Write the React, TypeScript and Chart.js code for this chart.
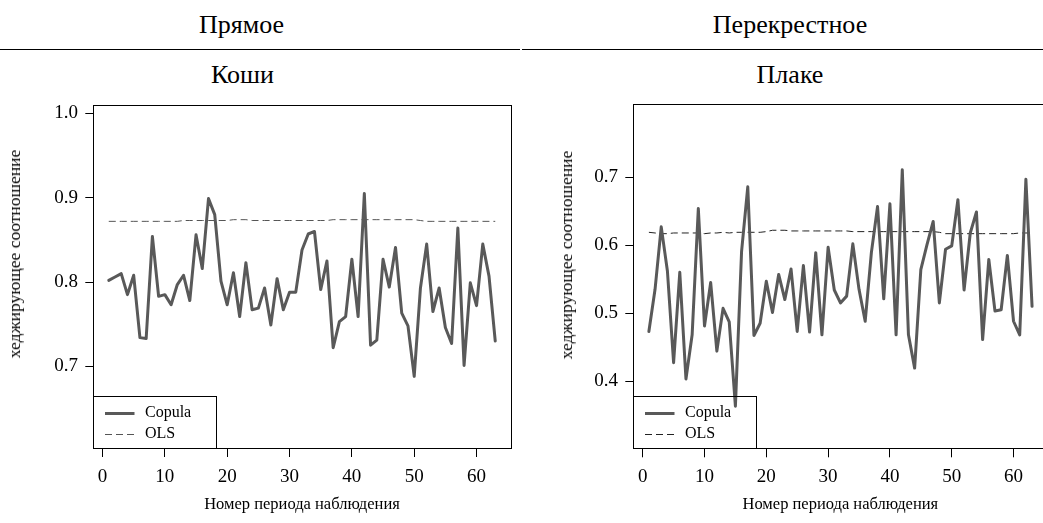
import React, { useEffect, useRef } from 'react';
import { Chart, registerables } from 'chart.js';

Chart.register(...registerables);

const FONT = "'Liberation Serif', 'Times New Roman', 'DejaVu Serif', serif";

const periods = [1, 2, 3, 4, 5, 6, 7, 8, 9, 10, 11, 12, 13, 14, 15, 16, 17, 18, 19, 20, 21, 22, 23, 24, 25, 26, 27, 28, 29, 30, 31, 32, 33, 34, 35, 36, 37, 38, 39, 40, 41, 42, 43, 44, 45, 46, 47, 48, 49, 50, 51, 52, 53, 54, 55, 56, 57, 58, 59, 60, 61, 62, 63];

const leftCopula = [0.802, 0.806, 0.810, 0.785, 0.808, 0.734, 0.733, 0.854, 0.783, 0.785, 0.773, 0.797, 0.808, 0.778, 0.856, 0.816, 0.899, 0.880, 0.801, 0.773, 0.811, 0.759, 0.823, 0.767, 0.769, 0.793, 0.749, 0.804, 0.767, 0.788, 0.788, 0.838, 0.857, 0.860, 0.791, 0.825, 0.722, 0.753, 0.759, 0.827, 0.759, 0.905, 0.725, 0.731, 0.827, 0.794, 0.841, 0.763, 0.748, 0.688, 0.793, 0.845, 0.765, 0.793, 0.746, 0.727, 0.864, 0.701, 0.799, 0.772, 0.845, 0.807, 0.730];

const leftOLS = [0.872, 0.872, 0.872, 0.872, 0.872, 0.872, 0.872, 0.872, 0.872, 0.872, 0.872, 0.872, 0.873, 0.873, 0.873, 0.873, 0.873, 0.873, 0.873, 0.873, 0.874, 0.874, 0.874, 0.873, 0.873, 0.873, 0.873, 0.873, 0.873, 0.873, 0.873, 0.873, 0.873, 0.873, 0.873, 0.873, 0.874, 0.874, 0.874, 0.874, 0.874, 0.874, 0.874, 0.874, 0.874, 0.874, 0.874, 0.874, 0.874, 0.874, 0.873, 0.872, 0.872, 0.872, 0.872, 0.872, 0.872, 0.872, 0.872, 0.872, 0.872, 0.872, 0.872];

const rightCopula = [0.473, 0.535, 0.627, 0.562, 0.427, 0.560, 0.403, 0.468, 0.654, 0.481, 0.545, 0.444, 0.507, 0.487, 0.363, 0.591, 0.686, 0.467, 0.485, 0.547, 0.501, 0.557, 0.520, 0.565, 0.473, 0.570, 0.472, 0.589, 0.468, 0.597, 0.534, 0.515, 0.525, 0.602, 0.535, 0.488, 0.589, 0.657, 0.521, 0.661, 0.468, 0.711, 0.468, 0.419, 0.564, 0.601, 0.635, 0.515, 0.594, 0.599, 0.667, 0.534, 0.618, 0.649, 0.461, 0.579, 0.503, 0.505, 0.585, 0.488, 0.468, 0.697, 0.510];

const rightOLS = [0.619, 0.618, 0.617, 0.617, 0.618, 0.618, 0.618, 0.618, 0.618, 0.617, 0.618, 0.618, 0.619, 0.618, 0.619, 0.619, 0.619, 0.619, 0.619, 0.620, 0.622, 0.622, 0.622, 0.621, 0.621, 0.621, 0.621, 0.621, 0.621, 0.621, 0.621, 0.621, 0.621, 0.620, 0.620, 0.620, 0.620, 0.620, 0.620, 0.620, 0.620, 0.620, 0.620, 0.620, 0.620, 0.620, 0.620, 0.619, 0.617, 0.617, 0.617, 0.617, 0.617, 0.617, 0.617, 0.617, 0.617, 0.617, 0.617, 0.617, 0.618, 0.618, 0.618];

const xTicks = [0, 10, 20, 30, 40, 50, 60];
const leftYTicks = [0.7, 0.8, 0.9, 1.0];
const rightYTicks = [0.4, 0.5, 0.6, 0.7];
const seriesLabels = ['Copula', 'OLS'];
const xTitle = 'Номер периода наблюдения';
const yTitle = 'хеджирующее соотношение';

const boxPlugin = {
  id: 'rbox',
  afterDraw(chart: any) {
    const { ctx, chartArea } = chart;
    ctx.save();
    ctx.strokeStyle = '#000';
    ctx.lineWidth = 1;
    const l = Math.round(chartArea.left) + 0.5;
    const t = Math.round(chartArea.top) + 0.5;
    const r = Math.round(chartArea.right) + 0.5;
    const b = Math.round(chartArea.bottom) + 0.5;
    ctx.strokeRect(l, t, r - l, b - t);
    // legend
    const lw = 123, lh = 52;
    const lx = l, ly = b - lh;
    ctx.strokeRect(lx, ly, lw, lh);
    ctx.font = `16px ${FONT}`;
    ctx.textBaseline = 'middle';
    ctx.textAlign = 'left';
    chart.data.datasets.forEach((ds: any, i: number) => {
      const yy = ly + 16.5 + i * 20.7;
      ctx.beginPath();
      ctx.strokeStyle = ds.borderColor;
      ctx.lineWidth = ds.borderWidth;
      ctx.setLineDash(ds.borderDash || []);
      ctx.moveTo(lx + 11.5, Math.round(yy) + 0.5);
      ctx.lineTo(lx + 41, Math.round(yy) + 0.5);
      ctx.stroke();
      ctx.setLineDash([]);
      ctx.fillStyle = '#000';
      ctx.fillText(ds.label, lx + 51.5, yy);
    });
    ctx.restore();
  },
};

type PanelProps = {
  left: number;
  width: number;
  yWidth: number;
  padTop: number;
  padRight: number;
  xHeight: number;
  xMin: number;
  xMax: number;
  yMin: number;
  yMax: number;
  yTicks: number[];
  copula: number[];
  ols: number[];
  olsColor: string;
};

function Panel(p: PanelProps) {
  const ref = useRef<HTMLCanvasElement>(null);
  useEffect(() => {
    const tickFont = { family: FONT, size: 19 };
    const titleFont = { family: FONT, size: 16.5 };
    const chart = new Chart(ref.current as HTMLCanvasElement, {
      type: 'line',
      data: {
        datasets: [
          {
            label: seriesLabels[0],
            data: periods.map((x, i) => ({ x, y: p.copula[i] })),
            borderColor: '#595959',
            borderWidth: 3,
            pointRadius: 0,
            tension: 0,
            borderJoinStyle: 'round',
            borderCapStyle: 'round',
          },
          {
            label: seriesLabels[1],
            data: periods.map((x, i) => ({ x, y: p.ols[i] })),
            borderColor: p.olsColor,
            borderWidth: 1,
            borderDash: [7, 4],
            pointRadius: 0,
            tension: 0,
          },
        ],
      },
      options: {
        animation: false,
        responsive: false,
        devicePixelRatio: 1,
        events: [],
        layout: { padding: { left: 0, top: p.padTop, right: p.padRight, bottom: 0 } },
        plugins: { legend: { display: false }, tooltip: { enabled: false }, title: { display: false } },
        scales: {
          x: {
            type: 'linear',
            min: p.xMin,
            max: p.xMax,
            afterBuildTicks: (s: any) => {
              s.ticks = xTicks.map((v) => ({ value: v }));
            },
            afterFit: (s: any) => {
              s.height = p.xHeight;
            },
            ticks: { font: tickFont, color: '#000', padding: 8.5, maxRotation: 0, autoSkip: false },
            grid: { display: true, drawOnChartArea: false, drawTicks: true, tickLength: 9, color: '#000', lineWidth: 1 },
            border: { display: false },
            title: { display: true, text: xTitle, font: titleFont, color: '#000', padding: { top: 0, bottom: 8 } },
          },
          y: {
            type: 'linear',
            min: p.yMin,
            max: p.yMax,
            afterBuildTicks: (s: any) => {
              s.ticks = p.yTicks.map((v) => ({ value: v }));
            },
            afterFit: (s: any) => {
              s.width = p.yWidth;
            },
            ticks: {
              font: tickFont,
              color: '#000',
              padding: 7.3,
              autoSkip: false,
              callback: (v: any) => Number(v).toFixed(1),
            },
            grid: { display: true, drawOnChartArea: false, drawTicks: true, tickLength: 8, color: '#000', lineWidth: 1 },
            border: { display: false },
            title: { display: false },
          },
        },
      },
      plugins: [boxPlugin],
    } as any);
    return () => chart.destroy();
  }, []);
  return (
    <canvas
      ref={ref}
      width={p.width}
      height={523}
      style={{ position: 'absolute', left: p.left, top: 0, width: p.width, height: 523 }}
    />
  );
}

const headStyle: React.CSSProperties = {
  position: 'absolute',
  fontFamily: FONT,
  fontSize: 26,
  lineHeight: '26px',
  whiteSpace: 'nowrap',
  transform: 'translateX(-50%)',
  color: '#000',
};

const yTitleStyle: React.CSSProperties = {
  position: 'absolute',
  fontFamily: FONT,
  fontSize: 17.5,
  lineHeight: '18px',
  whiteSpace: 'nowrap',
  transform: 'translate(-50%, -50%) rotate(-90deg)',
  color: '#000',
};

export default function App() {
  return (
    <div
      style={{
        position: 'fixed',
        left: 0,
        top: 0,
        width: 1043,
        height: 523,
        overflow: 'hidden',
        background: '#fff',
      }}
    >
      <div style={{ ...headStyle, left: 241.5, top: 11.5 }}>Прямое</div>
      <div style={{ ...headStyle, left: 790, top: 11.5 }}>Перекрестное</div>
      <div style={{ position: 'absolute', left: 0, top: 48.5, width: 520, height: 1.5, background: '#000' }} />
      <div style={{ position: 'absolute', left: 522, top: 48.5, width: 521, height: 1.5, background: '#000' }} />
      <div style={{ ...headStyle, left: 242.5, top: 62.2 }}>Коши</div>
      <div style={{ ...headStyle, left: 790, top: 62.2 }}>Плаке</div>
      <Panel
        left={0}
        width={521}
        yWidth={93.3}
        padTop={105}
        padRight={10.3}
        xHeight={75}
        xMin={-1.48}
        xMax={65.48}
        yMin={0.603}
        yMax={1.0101}
        yTicks={leftYTicks}
        copula={leftCopula}
        ols={leftOLS}
        olsColor="#555"
      />
      <Panel
        left={552}
        width={500}
        yWidth={81.3}
        padTop={104.3}
        padRight={4.6}
        xHeight={74.7}
        xMin={-1.52}
        xMax={65.48}
        yMin={0.3009}
        yMax={0.8075}
        yTicks={rightYTicks}
        copula={rightCopula}
        ols={rightOLS}
        olsColor="#222"
      />
      <div style={{ ...yTitleStyle, left: 14, top: 253.5 }}>{yTitle}</div>
      <div style={{ ...yTitleStyle, left: 566, top: 254.5 }}>{yTitle}</div>
    </div>
  );
}
